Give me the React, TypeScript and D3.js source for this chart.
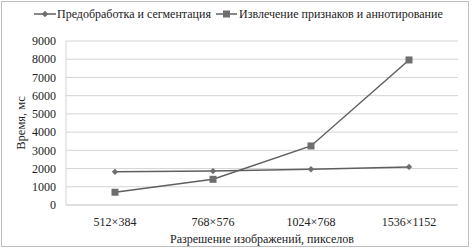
import React from "react";
import * as d3 from "d3";

const categories = ["512×384", "768×576", "1024×768", "1536×1152"];
const seriesNames = ["Предобработка и сегментация", "Извлечение признаков и аннотирование"];
const preprocessing = [1820, 1860, 1960, 2090];
const extraction = [700, 1410, 3240, 7960];
const yTicks = [0, 1000, 2000, 3000, 4000, 5000, 6000, 7000, 8000, 9000];
const yTitle = "Время, мс";
const xTitle = "Разрешение изображений, пикселов";

const W = 473, H = 251;
const FONT = "Liberation Serif";
const TXT = "#222";

export default function App() {
  const x = d3.scaleBand().domain(categories).range([66, 458]);
  const y = d3.scaleLinear().domain([0, 9000]).range([205, 41]);
  const cx = (c: string) => (x(c) as number) + x.bandwidth() / 2;
  const line = d3.line<number>().x((_, i) => cx(categories[i])).y((v) => y(v));
  const lineColor = "#5f5f5f";
  const markerColor = "#6e6e6e";
  const diamond = (px: number, py: number, r = 3.2) =>
    `M${px},${py - r}L${px + r},${py}L${px},${py + r}L${px - r},${py}Z`;
  const ts = { fontFamily: FONT };

  return (
    <svg width={W} height={H} style={{ position: "absolute", left: 0, top: 0, background: "#fff" }}>
      <rect x={1.5} y={1.5} width={467} height={245} fill="#fff" stroke="#bdbdbd" strokeWidth={1} />
      {yTicks.map((t) => (
        <line key={t} x1={66} x2={458} y1={y(t)} y2={y(t)} stroke={t === 0 ? "#bfbfbf" : "#d4d4d4"} strokeWidth={1} />
      ))}
      <line x1={66} x2={66} y1={41} y2={205} stroke="#d4d4d4" />
      {yTicks.map((t) => (
        <text key={t} x={56} y={y(t)} dy="0.35em" textAnchor="end" style={ts} fontSize={12} fill={TXT}>
          {t}
        </text>
      ))}
      {categories.map((c) => (
        <text key={c} x={cx(c)} y={222} dy="0.35em" textAnchor="middle" style={ts} fontSize={12} fill={TXT}>
          {c}
        </text>
      ))}
      <text x={262} y={239} dy="0.35em" textAnchor="middle" style={ts} fontSize={12} fill={TXT}>
        {xTitle}
      </text>
      <text transform={`translate(21,123) rotate(-90)`} textAnchor="middle" dy="0.35em" style={ts} fontSize={12.5} fill={TXT}>
        {yTitle}
      </text>
      <path d={line(preprocessing) || ""} fill="none" stroke={lineColor} strokeWidth={1.5} />
      <path d={line(extraction) || ""} fill="none" stroke={lineColor} strokeWidth={1.5} />
      {preprocessing.map((v, i) => (
        <path key={i} d={diamond(cx(categories[i]), y(v))} fill={markerColor} />
      ))}
      {extraction.map((v, i) => (
        <rect key={i} x={cx(categories[i]) - 3.5} y={y(v) - 3.5} width={7} height={7} fill={markerColor} />
      ))}
      <line x1={34} x2={56} y1={14} y2={14} stroke={lineColor} strokeWidth={1.5} />
      <path d={diamond(45, 14)} fill={markerColor} />
      <text x={57} y={14} dy="0.35em" style={ts} fontSize={12} fill={TXT}>{seriesNames[0]}</text>
      <line x1={216} x2={237} y1={14} y2={14} stroke={lineColor} strokeWidth={1.5} />
      <rect x={223} y={10.5} width={7} height={7} fill={markerColor} />
      <text x={239} y={14} dy="0.35em" style={ts} fontSize={12} fill={TXT}>{seriesNames[1]}</text>
    </svg>
  );
}
